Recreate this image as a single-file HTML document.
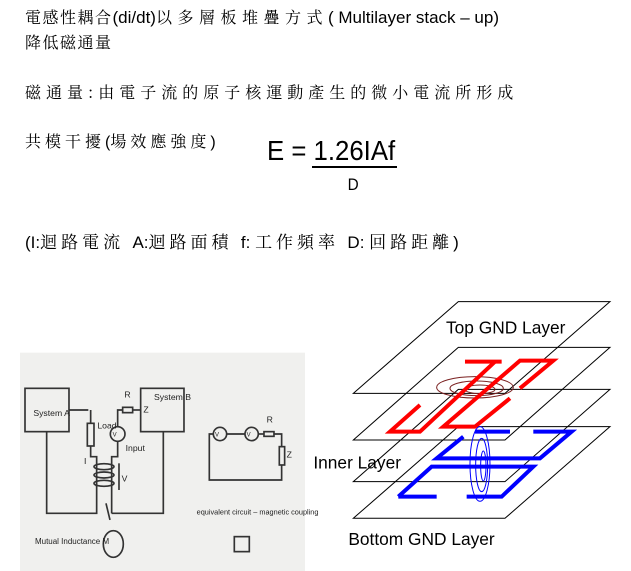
<!DOCTYPE html>
<html><head><meta charset="utf-8"><style>
body{margin:0;width:631px;height:571px;background:#fff;position:relative;overflow:hidden;font-family:"Liberation Sans","Noto Sans CJK TC",sans-serif;color:#000}
.t{position:absolute;white-space:nowrap;font-size:16px;line-height:18px}
.c{font-family:"Noto Serif CJK SC","Noto Sans CJK TC",serif}
</style></head><body>
<div class="t" style="left:25px;top:8px;font-size:17px"><span class="c" style="letter-spacing:1.5px;font-size:16px">電感性耦合</span>(di/dt)<span class="c" style="letter-spacing:5.5px;font-size:16px">以多層板堆疊方式</span>( Multilayer stack – up)</div>
<div class="t c" style="left:25px;top:33px;letter-spacing:1.5px">降低磁通量</div>
<div class="t c" style="left:25px;top:83px;letter-spacing:5px">磁通量:由電子流的原子核運動產生的微小電流所形成</div>
<div class="t" style="left:25px;top:132px"><span class="c" style="letter-spacing:4px">共模干擾</span>(<span class="c" style="letter-spacing:4px">場效應強度</span>)</div>
<div class="t" style="left:267px;top:136px;font-size:28px;line-height:30px;transform:scaleX(0.92);transform-origin:left">E = 1.26IAf</div>
<div style="position:absolute;left:312px;top:166px;width:85px;height:1.5px;background:#000"></div>
<div class="t" style="left:347px;top:176px;font-size:17px;transform:scaleX(0.9)">D</div>
<div class="t" style="left:25px;top:232px;font-size:17px">(I:<span class="c" style="letter-spacing:4px">迴路電流 </span>A:<span class="c" style="letter-spacing:4px">迴路面積 </span>f: <span class="c" style="letter-spacing:4px">工作頻率 </span>D: <span class="c" style="letter-spacing:4px">回路距離</span>)</div>

<svg style="position:absolute;left:0;top:0" width="631" height="571">
<g transform="translate(0,340) scale(0.3333)" fill="none" stroke="#333" stroke-width="5" font-family="Liberation Sans" font-size="26">
<rect x="60" y="38" width="855" height="655" fill="#f0f0ee" stroke="none"/>
<rect x="75" y="145" width="132" height="130"/>
<rect x="422" y="145" width="130" height="130"/>
<polyline points="140,275 140,520 290,520 290,430"/>
<polyline points="335,520 490,520 490,275"/>
<polyline points="207,210 265,210"/>
<rect x="262" y="250" width="20" height="68"/>
<polyline points="272,250 272,210"/>
<polyline points="272,318 272,350 290,350 290,440"/>
<circle cx="353" cy="282" r="22"/>
<polyline points="353,260 353,210 368,210"/>
<rect x="368" y="202" width="30" height="16"/>
<polyline points="398,210 422,210"/>
<polyline points="353,304 353,350 335,350 335,520"/>
<ellipse cx="312" cy="380" rx="30" ry="9"/><ellipse cx="312" cy="405" rx="30" ry="9"/><ellipse cx="312" cy="430" rx="30" ry="9"/>
<line x1="357" y1="450" x2="357" y2="370"/>
<line x1="330" y1="540" x2="318" y2="490"/>
<ellipse cx="340" cy="612" rx="30" ry="40"/>
<rect x="703" y="590" width="45" height="45"/>
<circle cx="660" cy="282" r="20"/><circle cx="755" cy="282" r="20"/>
<polyline points="640,282 628,282 628,420 845,420 845,375"/>
<line x1="680" y1="282" x2="735" y2="282"/>
<polyline points="775,282 792,282"/><rect x="792" y="275" width="30" height="14"/><polyline points="822,282 845,282 845,320"/>
<rect x="838" y="320" width="16" height="55"/>
<g fill="#222" stroke="none" font-size="26">
<text x="100" y="228">System A</text><text x="462" y="180">System B</text>
<text x="292" y="265">Load</text><text x="377" y="333">Input</text><text x="373" y="172">R</text><text x="430" y="218">Z</text>
<text x="252" y="372">I</text><text x="365" y="425">V</text><text x="800" y="248">R</text><text x="860" y="352">Z</text>
<text x="338" y="290" font-size="18">V</text><text x="645" y="290" font-size="18">V</text><text x="740" y="290" font-size="18">V</text>
<text x="590" y="523" font-size="22">equivalent circuit – magnetic coupling</text>
<text x="105" y="612" font-size="24">Mutual Inductance M</text>
</g>
</g>
<g transform="translate(320,290) scale(0.3333)" fill="none">
<g stroke="#000" stroke-width="3">
<polygon points="415,35 870,35 555,310 100,310"/>
<polygon points="415,172 870,172 555,450 100,450"/>
<polygon points="415,298 870,298 555,575 100,575"/>
<polygon points="415,410 870,410 555,685 100,685"/>
</g>
<g stroke="#7a2020" stroke-width="3">
<ellipse cx="465" cy="292" rx="115" ry="32"/><ellipse cx="470" cy="295" rx="80" ry="22"/><ellipse cx="480" cy="298" rx="45" ry="13"/>
</g>
<g stroke="#f00" stroke-width="12">
<polyline points="300,345 210,425 300,425 525,215"/>
<line x1="435" y1="215" x2="545" y2="215"/>
<polyline points="600,295 700,212 600,212 370,410 465,410 570,325"/>
</g>
<g stroke="#00f" stroke-width="12">
<line x1="465" y1="425" x2="570" y2="425"/>
<polyline points="640,425 755,425 660,505 350,505 430,440"/>
<polyline points="235,620 335,530 640,530 545,620 440,620"/>
<line x1="235" y1="620" x2="350" y2="620"/>
</g>
<g stroke="#00f" stroke-width="3">
<ellipse cx="480" cy="522" rx="30" ry="112"/><ellipse cx="485" cy="525" rx="18" ry="80"/><ellipse cx="490" cy="528" rx="8" ry="45"/>
</g>
<g fill="#000" font-family="Liberation Sans" font-size="52">
<text x="378" y="130">Top GND Layer</text>
<text x="-20" y="535">Inner Layer</text>
<text x="85" y="765">Bottom GND Layer</text>
</g>
</g>
</svg>
</body></html>
